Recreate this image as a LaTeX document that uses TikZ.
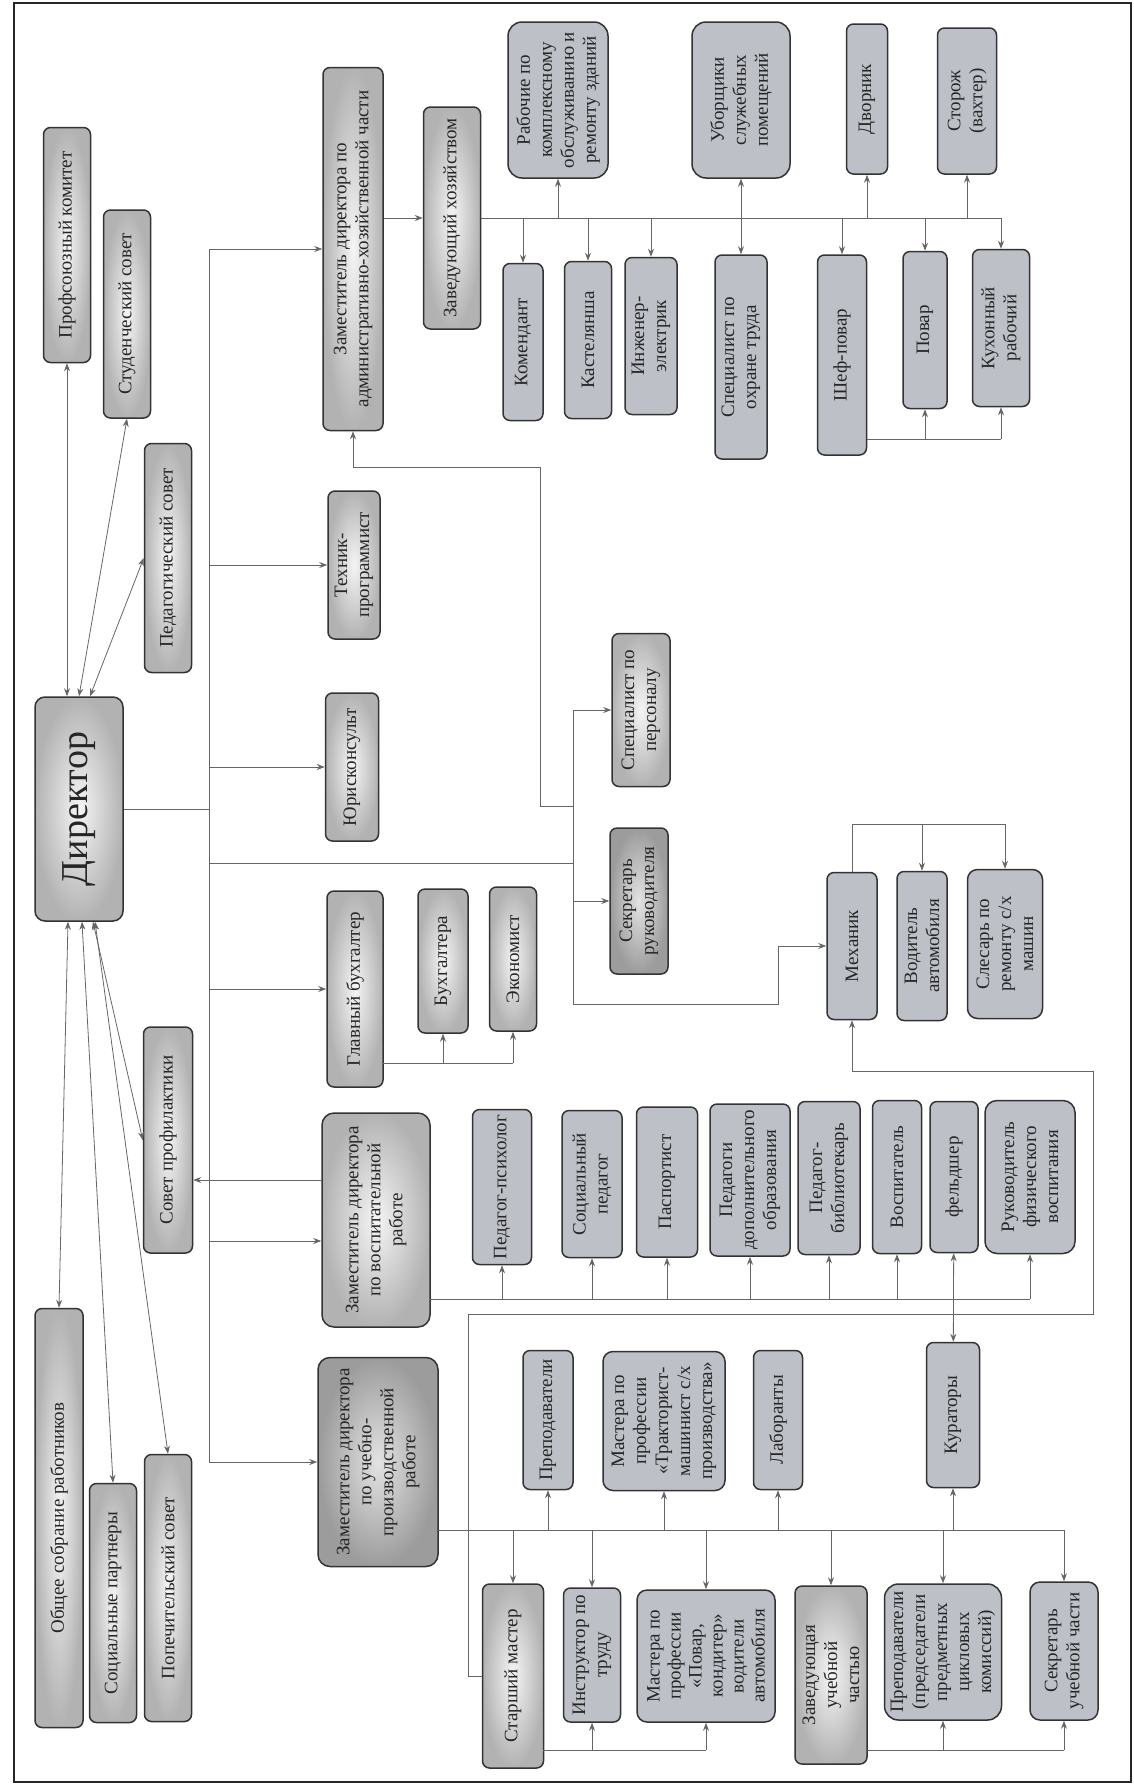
\documentclass[tikz,border=0pt]{standalone}
\usepackage{fontspec}
\setmainfont{Liberation Serif}
\usetikzlibrary{positioning,arrows.meta,calc}
\newcommand{\bloktext}{\fontsize{19}{22}\selectfont}
\definecolor{blokfill}{RGB}{190,192,200}

\begin{document}
\begin{tikzpicture}[x=1pt,y=-1pt]
\useasboundingbox (0,0) rectangle (1134,1786);
%% Frame
\draw[line width=2.4pt,black!85] (14,3) rectangle (1131,1782);

%% Draw org chart
  \begin{scope}[>={Stealth[length=8pt,width=6pt]},
       blok/.style={rectangle,rounded corners=7pt,draw=black!80,line width=1.5pt,
         fill=blokfill,rotate=90,align=center,inner sep=2pt,text=black!85,font=\bloktext},
       glavblok/.style={blok,inner color=gray!8,outer color=gray!60},
       temnblok/.style={blok,inner color=gray!22,outer color=gray!78},
       sz/.style 2 args={minimum width=#2pt,minimum height=#1pt},
       svyaz/.style={draw=black!60,line width=0.8pt},]
   %% left column
   \node [glavblok,sz={47}{235}] (profkom) at (67,245) {Профсоюзный комитет};
   \node [glavblok,sz={47}{208}] (studsovet) at (127,314) {Студенческий совет};
   \node [glavblok,sz={47}{229}] (pedsovet) at (168,558) {Педагогический совет};
   \node [glavblok,sz={88}{224},rounded corners=10pt,font=\fontsize{38}{42}\selectfont] (direktor) at (79,809) {Директор};
   \node [glavblok,sz={49}{226}] (sovprof) at (168,1140) {Совет профилактики};
   \node [glavblok,sz={48}{419}] (obsobr) at (59,1518) {Общее собрание работников};
   \node [glavblok,sz={47}{239}] (socpart) at (113,1603) {Социальные партнеры};
   \node [glavblok,sz={47}{267}] (popsovet) at (168,1588) {Попечительский совет};
   %% deputies and staff
   \node [glavblok,sz={60}{363}] (zahch) at (353,249) {Заместитель директора по\\административно-хозяйственной части};
   \node [glavblok,sz={52}{148}] (tehnik) at (354,565) {Техник-\\программист};
   \node [glavblok,sz={53}{148}] (yurist) at (352,767) {Юрисконсульт};
   \node [glavblok,sz={56}{196}] (glavbuh) at (355,989) {Главный бухгалтер};
   \node [glavblok,sz={108}{214},rounded corners=12pt] (zvr) at (376,1220) {Заместитель директора\\по воспитательной\\работе};
   \node [temnblok,sz={120}{209},rounded corners=12pt] (zupr) at (378,1462) {Заместитель директора\\по учебно-\\производственной\\работе};
   %% household
   \node [glavblok,sz={57}{222}] (zavhoz) at (452,218) {Заведующий хозяйством};
   \node [blok,sz={100}{156},rounded corners=14pt] (rabochie) at (558,100) {Рабочие по\\комплексному\\обслуживанию и\\ремонту зданий};
   \node [blok,sz={98}{156},rounded corners=14pt] (uborsh) at (741,100) {Уборщики\\служебных\\помещений};
   \node [blok,sz={41}{150}] (dvornik) at (867,99) {Дворник};
   \node [blok,sz={59}{146}] (storozh) at (967,101) {Сторож\\(вахтер)};
   \node [blok,sz={40}{157}] (komend) at (523,342) {Комендант};
   \node [blok,sz={47}{157}] (kastel) at (588,340) {Кастелянша};
   \node [blok,sz={52}{157}] (inzhener) at (651,336) {Инженер-\\электрик};
   \node [blok,sz={52}{204}] (spetsot) at (741,357) {Специалист по\\охране труда};
   \node [blok,sz={49}{200}] (shef) at (842,355) {Шеф-повар};
   \node [blok,sz={44}{157}] (povar) at (925,330) {Повар};
   \node [blok,sz={57}{157}] (kuhon) at (1001,328) {Кухонный\\рабочий};
   %% secretary, accounting, garage
   \node [glavblok,sz={58}{153}] (spers) at (641,710) {Специалист по\\персоналу};
   \node [temnblok,sz={58}{146}] (sekr) at (639,901) {Секретарь\\руководителя};
   \node [glavblok,sz={50}{144}] (buh) at (443,961) {Бухгалтера};
   \node [glavblok,sz={47}{144}] (econ) at (513,959) {Экономист};
   \node [blok,sz={50}{147}] (meh) at (852,946) {Механик};
   \node [blok,sz={50}{149}] (vod) at (922,946) {Водитель\\автомобиля};
   \node [blok,sz={75}{149},rounded corners=10pt] (sles) at (1005,944) {Слесарь по\\ремонту с/х\\машин};
   %% educational work
   \node [blok,sz={59}{155}] (pedpsy) at (502,1187) {Педагог-психолог};
   \node [blok,sz={60}{147}] (socped) at (592,1184) {Социальный\\педагог};
   \node [blok,sz={61}{150}] (pasport) at (667,1182) {Паспортист};
   \node [blok,sz={80}{152}] (peddop) at (750,1180) {Педагоги\\дополнительного\\образования};
   \node [blok,sz={62}{153}] (pedbib) at (829,1178) {Педагог-\\библиотекарь};
   \node [blok,sz={49}{153}] (vospit) at (897,1177) {Воспитатель};
   \node [blok,sz={48}{151}] (feld) at (954,1177) {фельдшер};
   \node [blok,sz={90}{153},rounded corners=12pt] (rukfiz) at (1030,1177) {Руководитель\\физического\\воспитания};
   %% training and production work
   \node [blok,sz={50}{139}] (prep) at (548,1420) {Преподаватели};
   \node [blok,sz={122}{139},rounded corners=10pt] (mastr) at (664,1421) {Мастера по\\профессии\\«Тракторист-\\машинист с/х\\производства»};
   \node [blok,sz={49}{139}] (labor) at (778,1420) {Лаборанты};
   \node [blok,sz={53}{145}] (kurat) at (953,1415) {Кураторы};
   \node [glavblok,sz={61}{184}] (stm) at (513,1676) {Старший мастер};
   \node [blok,sz={57}{134}] (instr) at (592,1655) {Инструктор по\\труду};
   \node [blok,sz={138}{132},rounded corners=10pt,font=\fontsize{19}{21}\selectfont] (mastpov) at (706,1656) {Мастера по\\профессии\\«Повар,\\кондитер»\\водители\\автомобиля};
   \node [glavblok,sz={72}{178}] (zavuch) at (831,1675) {Заведующая\\учебной\\частью};
   \node [blok,sz={117}{136},rounded corners=14pt] (prepck) at (943,1652) {Преподаватели\\(председатели\\предметных\\цикловых\\комиссий)};
   \node [blok,sz={68}{138},rounded corners=10pt] (sekruch) at (1064,1651) {Секретарь\\учебной части};

   %% helper points of the buses
   \coordinate (dbus) at (209,809);
   \coordinate (sbus) at (573,863);
   \coordinate (sbot) at (573,1004);
   \coordinate (hr1) at (573,806);
   \coordinate (hr2) at (540,467);
   \coordinate (mturn) at (778,946);
   \coordinate (mtop) at (1005,824);
   \coordinate (gbus) at (383,1063);
   \coordinate (kbus) at (867,439);
   \coordinate (vbus) at (430,1299);
   \coordinate (ubus) at (438,1530);
   \coordinate (smbus) at (543,1750);
   \coordinate (zubus) at (867,1750);
   \coordinate (c1) at (468,1314);
   \coordinate (c2) at (1093,1071);
   \coordinate (zvrin) at ([yshift=-21pt]zvr.north);
   \coordinate (zvrout) at ([yshift=40pt]zvr.north);

   %% director and councils
   \draw[svyaz,<->] (profkom) -- (profkom |- direktor.east);
   \draw[svyaz,<->] (studsovet.west) -- (direktor.east);
   \draw[svyaz,<->] (pedsovet.north) -- ([xshift=11pt]direktor.east);
   \draw[svyaz,<->] (obsobr.east) -- ([xshift=-11pt]direktor.west);
   \draw[svyaz,<->] (socpart.east) -- ([xshift=3pt]direktor.west);
   \draw[svyaz,<->] (popsovet.east) -- ([xshift=16pt]direktor.west);
   \draw[svyaz,<->] (sovprof.north) -- ([xshift=14pt]direktor.west);

   %% main bus
   \draw[svyaz] (direktor) -- (dbus);
   \draw[svyaz] (dbus |- zahch) -- (dbus |- zupr);
   \draw[svyaz,->] (dbus |- zahch) -- (zahch);
   \draw[svyaz,->] (dbus |- tehnik) -- (tehnik);
   \draw[svyaz,->] (dbus |- yurist) -- (yurist);
   \draw[svyaz,->] (dbus |- glavbuh) -- (glavbuh);
   \draw[svyaz,->] (dbus |- zvrin) -- (zvrin);
   \draw[svyaz,->] (dbus |- zupr) -- (zupr);
   \draw[svyaz,->] (zvrout) -- (zvrout -| sovprof.south);

   %% secretary bus
   \draw[svyaz] (dbus |- sbus) -- (sbus);
   \draw[svyaz] (sbus |- spers) -- (sbot);
   \draw[svyaz,->] (sbus |- spers) -- (spers);
   \draw[svyaz,->] (sbus |- sekr) -- (sekr);
   \draw[svyaz,->] (hr1) -| (hr2) -| (zahch);
   \draw[svyaz,->] (sbot) -| (mturn) -- (meh);

   %% household bus
   \draw[svyaz,->] (zahch.south |- zavhoz) -- (zavhoz);
   \draw[svyaz] (zavhoz) -- (zavhoz -| kuhon);
   \foreach \n in {rabochie,uborsh,dvornik,storozh,komend,kastel,inzhener,spetsot,shef,povar,kuhon}
     \draw[svyaz,->] (zavhoz -| \n) -- (\n);
   \draw[svyaz] (kbus) -- (kbus -| kuhon);
   \draw[svyaz,->] (kbus -| povar) -- (povar);
   \draw[svyaz,->] (kbus -| kuhon) -- (kuhon);

   %% accounting
   \draw[svyaz] (gbus) -- (gbus -| econ);
   \draw[svyaz,->] (gbus -| buh) -- (buh);
   \draw[svyaz,->] (gbus -| econ) -- (econ);

   %% garage
   \draw[svyaz] (meh) |- (mtop);
   \draw[svyaz,->] (mtop -| vod) -- (vod);
   \draw[svyaz,->] (mtop) -- (sles);
   \draw[svyaz,->] (stm.north) -| (c1) -| (c2) -| (meh);

   %% educational work bus
   \draw[svyaz] (vbus) -- (vbus -| rukfiz);
   \foreach \n in {pedpsy,socped,pasport,peddop,pedbib,vospit,rukfiz}
     \draw[svyaz,->] (vbus -| \n) -- (\n);
   \draw[svyaz,<->] (feld) -- (kurat);

   %% training and production bus
   \draw[svyaz] (ubus) -- (ubus -| sekruch);
   \foreach \n in {prep,mastr,labor,kurat,stm,instr,mastpov,zavuch,prepck,sekruch}
     \draw[svyaz,->] (ubus -| \n) -- (\n);
   \draw[svyaz] (smbus) -- (smbus -| mastpov);
   \draw[svyaz,->] (smbus -| instr) -- (instr);
   \draw[svyaz,->] (smbus -| mastpov) -- (mastpov);
   \draw[svyaz] (zubus) -- (zubus -| sekruch);
   \draw[svyaz,->] (zubus -| prepck) -- (prepck);
   \draw[svyaz,->] (zubus -| sekruch) -- (sekruch);
  \end{scope}
\end{tikzpicture}
\end{document}
